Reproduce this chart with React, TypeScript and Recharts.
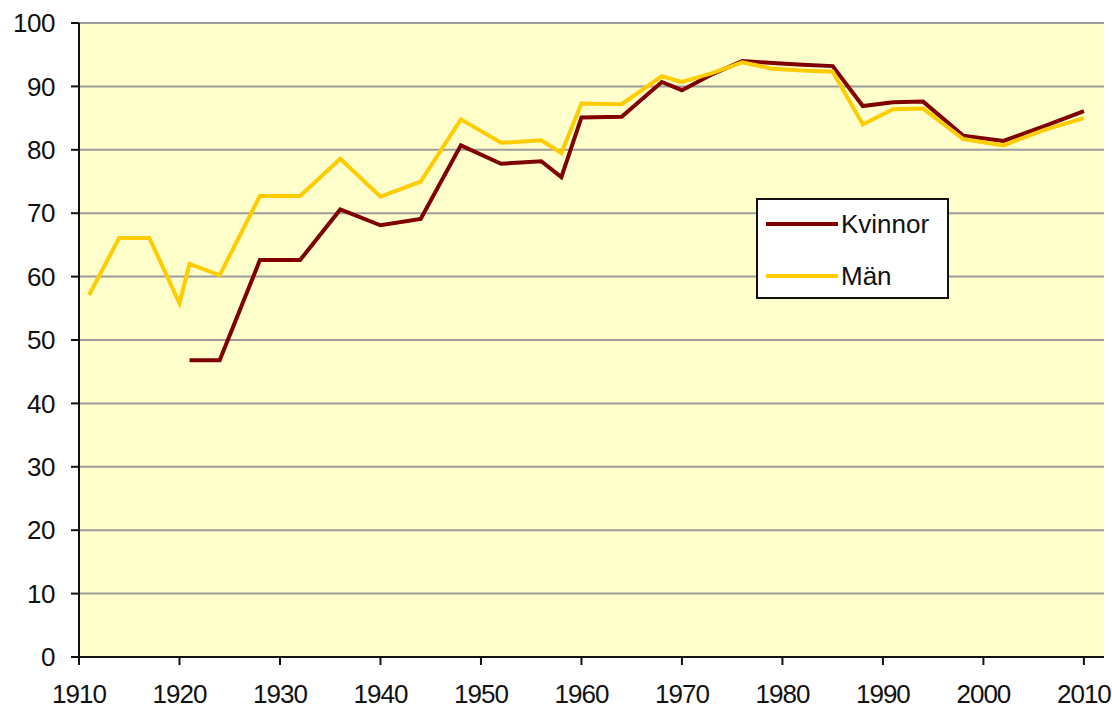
import React from 'react';
import { LineChart, Line, XAxis, YAxis, CartesianGrid } from 'recharts';

const years = [1911, 1914, 1917, 1920, 1921, 1924, 1928, 1932, 1936, 1940, 1944, 1948, 1952, 1956, 1958, 1960, 1964, 1968, 1970, 1973, 1976, 1979, 1982, 1985, 1988, 1991, 1994, 1998, 2002, 2006, 2010];
const kvinnor: (number | null)[] = [null, null, null, null, 46.8, 46.8, 62.6, 62.6, 70.6, 68.1, 69.1, 80.7, 77.8, 78.2, 75.7, 85.1, 85.2, 90.7, 89.4, 91.9, 94.0, 93.7, 93.4, 93.2, 86.9, 87.5, 87.6, 82.2, 81.4, 83.7, 86.1];
const man: number[] = [57.1, 66.1, 66.1, 55.8, 62.0, 60.2, 72.7, 72.7, 78.6, 72.6, 75.0, 84.8, 81.1, 81.5, 79.5, 87.3, 87.2, 91.6, 90.7, 92.1, 93.8, 92.8, 92.5, 92.3, 84.0, 86.4, 86.5, 81.7, 80.7, 83.1, 85.0];
const seriesNames = ['Kvinnor', 'Män'];
const seriesColors = ['#800000', '#FFCC00'];
const xTicks = [1910, 1920, 1930, 1940, 1950, 1960, 1970, 1980, 1990, 2000, 2010];
const yTicks = [0, 10, 20, 30, 40, 50, 60, 70, 80, 90, 100];

const data = years.map((y, i) => ({ year: y, kvinnor: kvinnor[i], man: man[i] }));

const FONT = '"Liberation Sans", Arial, sans-serif';

export default function App() {
  return (
    <div style={{ position: 'absolute', left: 0, top: 0, width: 1112, height: 711, background: '#fff' }}>
      <LineChart width={1112} height={711} data={data} margin={{ top: 23, right: 8, bottom: 0, left: 0 }}>
        <CartesianGrid vertical={false} horizontal={true} stroke="#9c9c9c" strokeWidth={2} fill="#FFFFCC" fillOpacity={1} />
        <XAxis
          dataKey="year"
          type="number"
          domain={[1910, 2012]}
          ticks={xTicks}
          allowDataOverflow
          height={54}
          tickSize={8}
          tickMargin={20}
          axisLine={{ stroke: '#111', strokeWidth: 2 }}
          tickLine={{ stroke: '#111', strokeWidth: 2 }}
          tick={{ fill: '#111', fontSize: 26, fontFamily: FONT, letterSpacing: -1 }}
          interval={0}
        />
        <XAxis xAxisId="top" orientation="top" type="number" domain={[1910, 2012]} height={0} tick={false} tickLine={false} axisLine={{ stroke: '#222', strokeWidth: 2 }} dataKey="year" />
        <YAxis
          type="number"
          domain={[0, 100]}
          ticks={yTicks}
          width={79}
          tickSize={8}
          tickMargin={16}
          axisLine={{ stroke: '#111', strokeWidth: 2 }}
          tickLine={{ stroke: '#111', strokeWidth: 2 }}
          tick={{ fill: '#111', fontSize: 26, fontFamily: FONT, letterSpacing: -0.5 }}
          interval={0}
        />
        <YAxis yAxisId="right" orientation="right" type="number" domain={[0, 100]} width={0} tick={false} tickLine={false} axisLine={{ stroke: '#222', strokeWidth: 2 }} />
        <Line type="linear" dataKey="kvinnor" name={seriesNames[0]} stroke={seriesColors[0]} strokeWidth={4} dot={false} isAnimationActive={false} connectNulls={false} />
        <Line type="linear" dataKey="man" name={seriesNames[1]} stroke={seriesColors[1]} strokeWidth={4} dot={false} isAnimationActive={false} />
      </LineChart>
      <div style={{ position: 'absolute', left: 756, top: 198, width: 193, height: 101, background: '#fff', border: '2px solid #111', boxSizing: 'border-box', fontFamily: FONT, fontSize: 26, color: '#111' }}>
        {seriesNames.map((n, i) => (
          <div key={n} style={{ position: 'absolute', left: 0, top: i === 0 ? 6 : 58, height: 36, display: 'flex', alignItems: 'center' }}>
            <div style={{ width: 72, height: 4, background: seriesColors[i], marginLeft: 8, marginRight: 3 }} />
            <span>{n}</span>
          </div>
        ))}
      </div>
    </div>
  );
}
